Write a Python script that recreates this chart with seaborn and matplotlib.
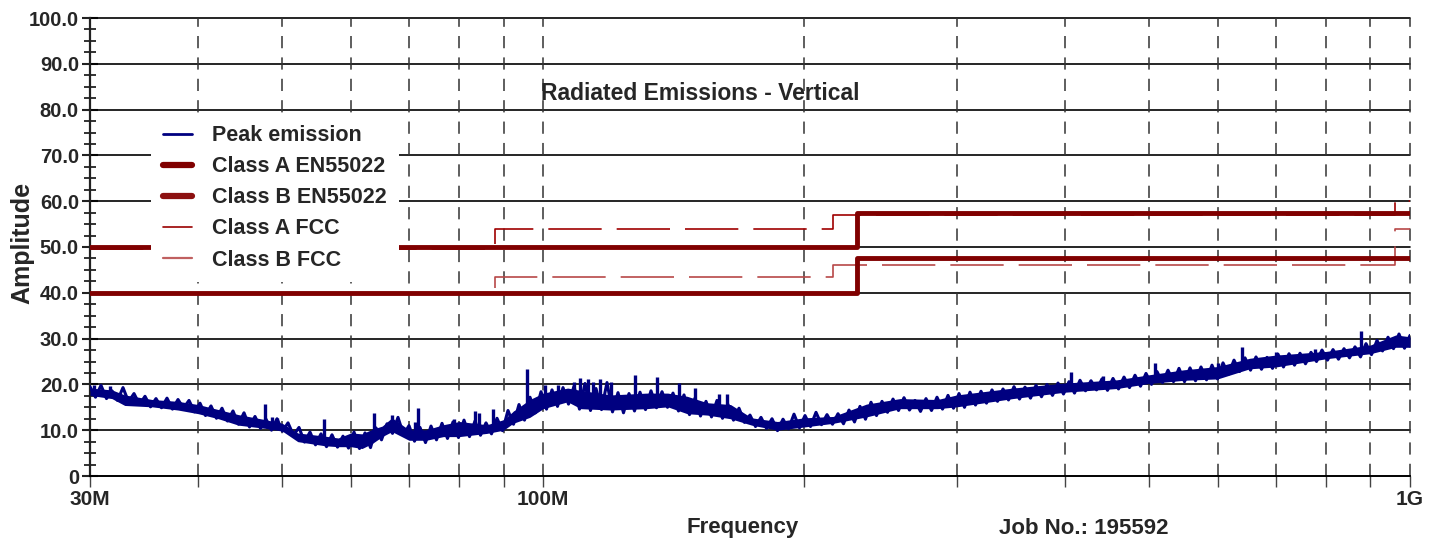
import matplotlib
matplotlib.use("Agg")
import numpy as np
import matplotlib.pyplot as plt
import seaborn as sns
from matplotlib.lines import Line2D
from matplotlib.ticker import FixedLocator, FuncFormatter, MultipleLocator, NullFormatter

# peak emission: lower / upper edge of the noisy band, read at a few points (MHz, dBuV/m)
band_mhz = [30.0, 31.8, 32.9, 35.4, 37.9, 40.0, 42.2, 44.5, 47.8, 50.0, 52.1, 56.0, 58.0, 60.0,
            61.8, 63.5, 65.2, 66.9, 70.0, 73.3, 76.7, 80.0, 86.1, 90.0, 92.3, 96.5, 100, 106.7,
            110.5, 119.6, 131.6, 139.2, 146.6, 154.6, 164.5, 174, 186.3, 200, 216, 236, 258, 285,
            300, 348, 400, 459, 500, 549, 600, 653, 700, 800, 900, 963, 1000]
band_lo = [17.3, 16.6, 15.1, 14.8, 14.1, 13.3, 12.2, 10.8, 10.1, 9.5, 7.2, 6.3, 6.1, 6.1,
           5.7, 6.8, 8.3, 9.4, 7.5, 7.5, 8.3, 8.3, 9.0, 9.7, 11.2, 12.5, 14.4, 15.9,
           14.4, 14.1, 14.4, 14.8, 13.3, 13.0, 12.2, 10.8, 9.7, 10.4, 11.2, 12.6, 14.4, 14.4,
           14.8, 16.6, 18.0, 18.8, 19.9, 20.6, 20.9, 23.1, 23.5, 25.3, 26.4, 27.8, 27.8]
band_hi = [19.5, 19.1, 18.0, 17.0, 16.6, 15.9, 14.8, 13.7, 12.6, 11.8, 9.7, 9.0, 8.6, 9.7,
           9.5, 10.5, 11.2, 13.0, 10.4, 10.4, 11.5, 12.2, 11.5, 12.6, 14.4, 17.0, 18.4, 19.5,
           19.0, 18.0, 18.4, 18.4, 17.7, 16.3, 15.9, 13.0, 12.2, 13.0, 13.3, 16.0, 17.2, 17.0,
           18.0, 19.5, 20.6, 21.3, 22.4, 23.5, 24.2, 26.0, 26.7, 27.5, 28.9, 31.1, 30.7]

# the same trace read on an even log sweep from 30 MHz to 1 GHz;
# neighbouring readings swing between the lower and upper edge of the band
trace_db = [
    19.5, 17.2, 19.8, 16.9, 18.6, 16.5, 19.3, 16.2, 18.0, 15.6,
    17.4, 15.1, 16.9, 14.9, 17.0, 14.6, 16.7, 14.8, 16.5, 14.0,
    15.9, 13.2, 15.3, 12.6, 14.8, 12.0, 14.2, 11.3, 13.8, 10.7,
    13.0, 10.4, 12.4, 10.0, 12.5, 9.8, 11.6, 8.9, 10.6, 7.4,
    9.6, 6.8, 9.2, 6.4, 9.0, 6.3, 8.7, 6.1, 9.6, 6.0,
    9.4, 6.2, 10.5, 7.9, 11.4, 9.3, 12.8, 9.0, 11.0, 7.6,
    10.6, 7.3, 10.9, 7.9, 11.5, 8.2, 11.8, 8.4, 12.2, 8.6,
    12.0, 8.9, 11.6, 9.2, 12.6, 9.9, 14.3, 11.3, 15.6, 12.2,
    17.2, 13.8, 18.4, 14.6, 18.8, 15.2, 19.3, 15.7, 19.6, 14.6,
    20.2, 14.3, 19.1, 14.5, 20.4, 14.0, 18.2, 13.8, 18.0, 14.2,
    18.3, 14.5, 18.6, 14.9, 18.4, 15.0, 18.1, 14.2, 17.7, 13.4,
    17.0, 13.1, 16.3, 12.9, 16.5, 12.6, 15.6, 12.2, 14.8, 11.7,
    13.3, 10.8, 12.8, 10.4, 12.5, 9.9, 12.4, 10.3, 13.5, 10.5,
    13.2, 10.8, 13.9, 11.2, 13.4, 11.3, 13.6, 11.4, 14.4, 11.8,
    15.2, 12.4, 16.1, 13.2, 16.3, 13.9, 16.8, 14.3, 17.1, 14.4,
    16.5, 14.1, 16.9, 14.3, 17.2, 14.6, 17.6, 14.8, 18.0, 15.0,
    18.3, 15.5, 18.5, 15.9, 18.8, 16.3, 19.0, 16.6, 19.5, 16.8,
    19.4, 17.0, 19.8, 17.3, 20.0, 17.6, 20.3, 17.9, 20.6, 18.1,
    20.9, 18.6, 20.8, 18.8, 21.2, 18.7, 21.3, 19.0, 21.6, 19.3,
    22.0, 19.6, 22.4, 20.0, 22.8, 20.4, 23.1, 20.6, 23.5, 20.6,
    23.6, 20.8, 23.8, 21.0, 24.2, 21.2, 24.7, 22.2, 25.3, 22.8,
    25.8, 23.1, 26.0, 23.3, 25.9, 23.5, 26.6, 23.8, 26.7, 24.2,
    26.8, 24.5, 27.0, 25.0, 27.5, 25.3, 27.6, 25.5, 27.8, 25.8,
    28.2, 26.0, 28.9, 26.5, 29.6, 27.3, 30.3, 27.8, 31.0, 27.9,
    30.7,
]
trace_mhz = np.geomspace(30, 1000, len(trace_db))

# narrow peaks standing out of the band
spike_mhz = [30.3, 31.6, 47.8, 48.7, 49.3, 55.9, 63.8, 66.9, 71.1, 71.7, 79.0, 83.5, 84.3, 87.5,
             92.8, 95.8, 100.5, 104, 108.5, 110.3, 112.5, 114.2, 116.3, 119.6, 127.5, 135.3,
             143.4, 149.8, 159.5, 163, 406, 442, 508, 600, 640, 700, 777, 877]
spike_top = [19.8, 19.6, 15.7, 12.8, 12.6, 12.4, 13.8, 13.3, 11.8, 14.8, 12.5, 14.1, 13.8, 14.6,
             14.3, 23.3, 19.9, 19.8, 20.6, 21.5, 21.2, 20.6, 21.1, 20.6, 22.0, 21.6,
             20.3, 19.3, 18.0, 18.0, 22.6, 21.8, 24.6, 24.6, 28.2, 27.0, 27.8, 31.7]

# limit lines (step points)
en_mhz = [30, 230, 230, 1000]
en_a = [50, 50, 57.5, 57.5]
en_b = [40, 40, 47.5, 47.5]
fcc_mhz = [30, 88, 88, 216, 216, 960, 960, 1000]
fcc_a = [49.5, 49.5, 54.0, 54.0, 56.9, 56.9, 60.0, 60.0]
fcc_b = [40.0, 40.0, 43.5, 43.5, 46.0, 46.0, 54.0, 54.0]

legend_labels = ["Peak emission", "Class A EN55022", "Class B EN55022", "Class A FCC", "Class B FCC"]
tick_names = {30: "30M", 100: "100M", 1000: "1G"}

navy = "#000080"
maroon = "#800000"

sns.set_style("white")
plt.rcParams["font.family"] = ["Liberation Sans", "DejaVu Sans"]
plt.rcParams["font.weight"] = "bold"

fig = plt.figure(figsize=(14.29, 5.44), dpi=100)
ax = fig.add_axes([90 / 1429, 68 / 544, 1320 / 1429, 458 / 544])
ax.set_xscale("log")

# grid
for y in range(10, 101, 10):
    ax.axhline(y, color="black", lw=1.2, zorder=1, clip_on=False)
grid_mhz = [40, 50, 60, 70, 80, 90, 100, 200, 300, 400, 500, 600, 700, 800, 900, 1000]
for f in grid_mhz:
    ax.axvline(f, color="#333333", lw=1.1, dashes=(8, 6), zorder=1, clip_on=False)

# limits
sns.lineplot(x=fcc_mhz, y=fcc_a, ax=ax, color="#a00000", lw=1.2,
             estimator=None, sort=False, zorder=2)
sns.lineplot(x=fcc_mhz, y=fcc_b, ax=ax, color="#b84848", lw=1.2,
             estimator=None, sort=False, zorder=2)
for ln in ax.lines[-2:]:
    ln.set_dashes((32, 9))
sns.lineplot(x=en_mhz, y=en_a, ax=ax, color=maroon, lw=3.5, estimator=None, sort=False, zorder=3)
sns.lineplot(x=en_mhz, y=en_b, ax=ax, color=maroon, lw=3.5, estimator=None, sort=False, zorder=3)

# emission trace: solid core of the band, jagged sweep on top, then the narrow peaks
ax.fill_between(band_mhz, np.array(band_lo) + 0.3, np.array(band_hi) - 0.3,
                color=navy, lw=0, zorder=4)
sns.lineplot(x=trace_mhz, y=trace_db, ax=ax, color=navy, lw=2.2, estimator=None, sort=False, zorder=4)
spike_base = np.interp(spike_mhz, band_mhz, band_hi) - 1.0
ax.vlines(spike_mhz, spike_base, spike_top, color=navy, lw=2.4, zorder=4)

ax.set_xlim(30, 1000)
ax.set_ylim(0, 100)
ax.set_xlabel("")
ax.set_ylabel("")

ax.xaxis.set_major_locator(FixedLocator([30, 100, 1000]))
ax.xaxis.set_major_formatter(FuncFormatter(lambda v, p: tick_names.get(int(round(v)), "")))
ax.xaxis.set_minor_locator(FixedLocator(grid_mhz[:6] + grid_mhz[7:15]))
ax.xaxis.set_minor_formatter(NullFormatter())
ax.yaxis.set_major_locator(MultipleLocator(10))
ax.yaxis.set_minor_locator(MultipleLocator(2.5))
ax.yaxis.set_major_formatter(FuncFormatter(lambda v, p: "0" if v == 0 else f"{v:.1f}"))

ax.tick_params(axis="x", which="both", direction="out", length=8, width=1, color="#444444",
               labelsize=15, pad=2, bottom=True)
ax.tick_params(axis="y", which="major", direction="inout", length=12, width=1.5,
               color="#222222", labelsize=14.5, pad=2, left=True)
ax.tick_params(axis="y", which="minor", direction="inout", length=8, width=1.3,
               color="#222222", left=True)
for lab in ax.get_xticklabels() + ax.get_yticklabels():
    lab.set_fontweight("bold")

sns.despine(ax=ax, top=True, right=True)
ax.spines["left"].set_color("#222222")
ax.spines["left"].set_linewidth(1.6)
ax.spines["bottom"].set_color("black")
ax.spines["bottom"].set_linewidth(1.4)

ax.text(0.462, 0.836, "Radiated Emissions - Vertical", transform=ax.transAxes,
        ha="center", va="center", fontsize=16.5, fontweight="bold", zorder=7)

handles = [Line2D([], [], color=navy, lw=2),
           Line2D([], [], color=maroon, lw=4.5),
           Line2D([], [], color="#8c1010", lw=4.5),
           Line2D([], [], color="#990000", lw=1.2),
           Line2D([], [], color="#c06060", lw=1.6)]
leg = ax.legend(handles, legend_labels, loc="upper left", bbox_to_anchor=(0.046, 0.792),
                frameon=True, facecolor="white", edgecolor="none", framealpha=1, fancybox=False,
                fontsize=15.5, handlelength=1.35, handletextpad=0.95, labelspacing=0.47,
                borderpad=0.55, borderaxespad=0)
leg.set_zorder(6)
for t in leg.get_texts():
    t.set_fontweight("bold")

fig.text(22 / 1429, 1 - 243 / 544, "Amplitude", rotation=90, ha="center", va="center",
         fontsize=18, fontweight="bold")
fig.text(743 / 1429, 1 - 528 / 544, "Frequency", ha="center", va="center",
         fontsize=16, fontweight="bold")
fig.text(1084 / 1429, 1 - 528 / 544, "Job No.: 195592", ha="center", va="center",
         fontsize=16, fontweight="bold")

fig.savefig("out.png", dpi=100, facecolor="white")
